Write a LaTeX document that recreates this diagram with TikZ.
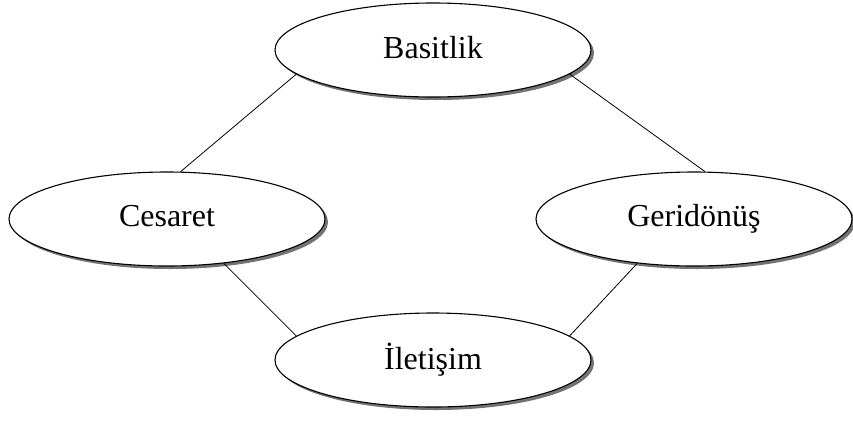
\documentclass[tikz,border=0pt]{standalone}
\usepackage{fontspec}
\setmainfont{Liberation Serif}
\usetikzlibrary{shapes.geometric,shadows}
\tikzset{
  ovalbox/.style={ellipse, draw=black, line width=1.1pt, fill=white,
    minimum width=316pt, minimum height=94pt, inner sep=0pt,
    drop shadow={fill=black!55, opacity=1, shadow xshift=3pt, shadow yshift=-3pt},
    font=\fontsize{32}{36}\selectfont},
  link/.style={draw=black, line width=0.8pt}
}
\begin{document}
\begin{tikzpicture}[x=1pt,y=-1pt]
\useasboundingbox (0,0) rectangle (853,421);
\node[ovalbox] (bas) at (433,50) {\raisebox{6pt}{Basitlik}};
\node[ovalbox] (ces) at (167,219) {\raisebox{6pt}{Cesaret}};
\node[ovalbox] (ger) at (694,219) {\raisebox{6pt}{Geridönüş}};
\node[ovalbox] (ile) at (433,360) {\raisebox{4pt}{İletişim}};
\draw[link] (bas.190) -- (ces.74);
\draw[link] (bas.350) -- (ger.77);
\draw[link] (ces.322) -- (ile.170);
\draw[link] (ger.218) -- (ile.10);
\end{tikzpicture}
\end{document}
